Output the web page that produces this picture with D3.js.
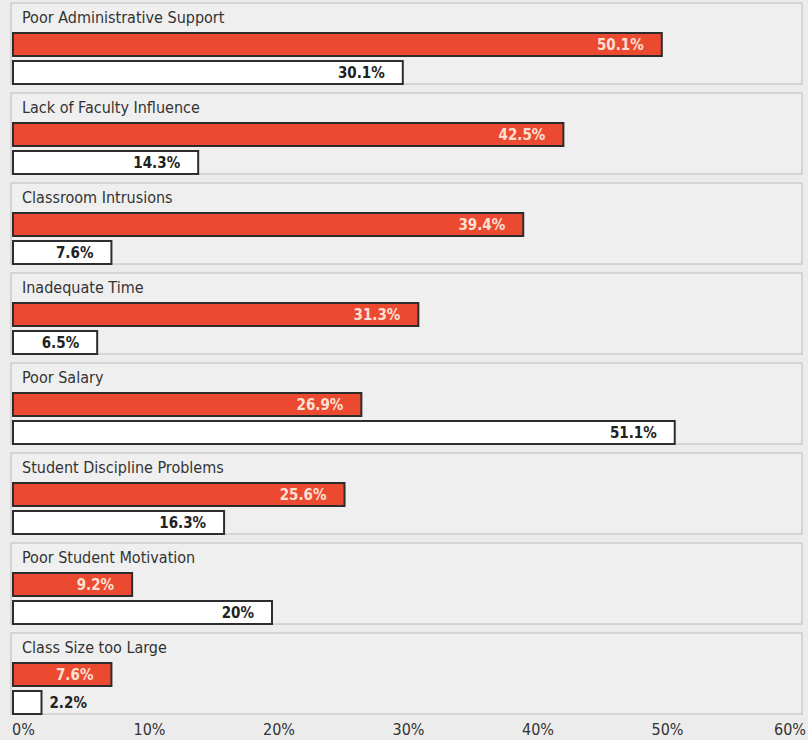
<!DOCTYPE html>
<html>
<head>
<meta charset="utf-8">
<script src="https://cdn.jsdelivr.net/npm/d3@7"></script>
<style>
  body { margin: 0; background: #ececec; }
  svg { display: block; }
  text { font-family: "Liberation Sans Narrow", "DejaVu Sans Condensed", "Roboto", sans-serif; }
</style>
</head>
<body>
<svg width="808" height="740"></svg>
<script>
// reasons for leaving, two groups compared
var categories = [
  "Poor Administrative Support",
  "Lack of Faculty Influence",
  "Classroom Intrusions",
  "Inadequate Time",
  "Poor Salary",
  "Student Discipline Problems",
  "Poor Student Motivation",
  "Class Size too Large"
];
var redValues = [50.1, 42.5, 39.4, 31.3, 26.9, 25.6, 9.2, 7.6];
var whiteValues = [30.1, 14.3, 7.6, 6.5, 51.1, 16.3, 20, 2.2];
var tickValues = [0, 10, 20, 30, 40, 50, 60];

var svg = d3.select("svg");
var width = +svg.attr("width");

var x = d3.scaleLinear().domain([0, 60]).range([13, 790]);

var panelTop = d3.scaleBand()
  .domain(categories)
  .range([3, 723])
  .paddingInner(0);

var rows = categories.map(function (c, i) {
  return { name: c, red: redValues[i], white: whiteValues[i] };
});

var panel = svg.append("g")
  .selectAll("g")
  .data(rows)
  .enter()
  .append("g")
  .attr("transform", function (d) { return "translate(0," + panelTop(d.name) + ")"; });

panel.append("rect")
  .attr("x", 11)
  .attr("y", 0)
  .attr("width", 791)
  .attr("height", 81)
  .attr("fill", "#efefef")
  .attr("stroke", "#c4c4c4")
  .attr("stroke-width", 1.2);

panel.append("text")
  .attr("x", 22)
  .attr("y", 20)
  .attr("font-size", 16)
  .attr("fill", "#333")
  .text(function (d) { return d.name; });

// red bars
panel.append("rect")
  .attr("x", x(0))
  .attr("y", 30)
  .attr("width", function (d) { return x(d.red) - x(0); })
  .attr("height", 23)
  .attr("fill", "#ec4a30")
  .attr("stroke", "#2d2d2d")
  .attr("stroke-width", 2);

panel.append("text")
  .attr("x", function (d) { return x(d.red) - 18; })
  .attr("y", 47)
  .attr("text-anchor", "end")
  .attr("font-size", 15)
  .attr("font-weight", "bold")
  .attr("fill", "#fbe0d4")
  .text(function (d) { return d.red + "%"; });

// white bars
panel.append("rect")
  .attr("x", x(0))
  .attr("y", 58)
  .attr("width", function (d) { return x(d.white) - x(0); })
  .attr("height", 23)
  .attr("fill", "#ffffff")
  .attr("stroke", "#2d2d2d")
  .attr("stroke-width", 2);

panel.append("text")
  .attr("x", function (d) {
    return d.white < 4 ? x(d.white) + 8 : x(d.white) - 18;
  })
  .attr("y", 75)
  .attr("text-anchor", function (d) { return d.white < 4 ? "start" : "end"; })
  .attr("font-size", 15)
  .attr("font-weight", "bold")
  .attr("fill", "#222")
  .text(function (d) { return d.white + "%"; });

// axis labels
svg.append("g")
  .selectAll("text")
  .data(tickValues)
  .enter()
  .append("text")
  .attr("x", function (d) {
    if (d === 0) return 12;
    if (d === 60) return 806;
    return x(d) + 7;
  })
  .attr("y", 735)
  .attr("text-anchor", function (d) {
    return d === 0 ? "start" : (d === 60 ? "end" : "middle");
  })
  .attr("font-size", 16)
  .attr("fill", "#333")
  .text(function (d) { return d + "%"; });
</script>
</body>
</html>
